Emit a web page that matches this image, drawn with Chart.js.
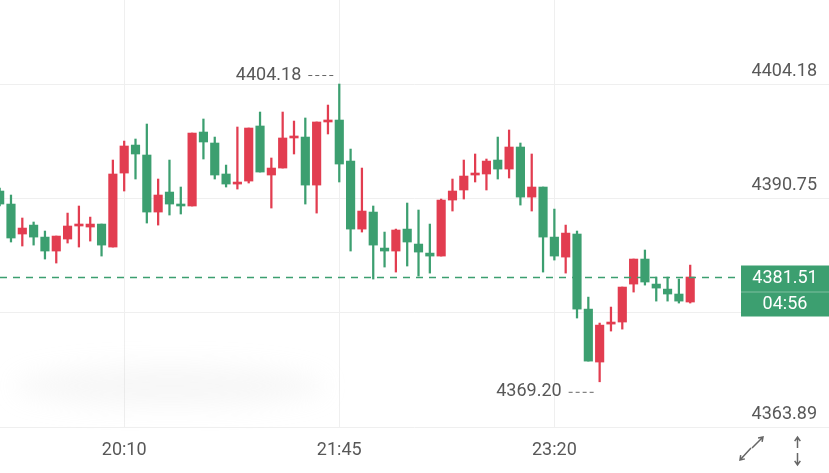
<!DOCTYPE html>
<html lang="zh">
<head>
<meta charset="UTF-8">
<title>K线图</title>
<script src="https://cdn.jsdelivr.net/npm/chart.js"></script>
<style>
  html, body { margin: 0; padding: 0; background: #fff; }
  canvas { display: block; }
</style>
</head>
<body>
<canvas id="kline" width="829" height="473"></canvas>
<script>
// 5 minute candles, index 11 = 20:10
const opens = [
  4391.61, 4390.08, 4386.56, 4387.61, 4386.20, 4384.56, 4385.97, 4387.50, 4387.38, 4387.73,
  4385.03, 4393.72, 4397.01, 4395.84, 4389.14, 4391.49, 4389.96, 4389.85, 4398.54, 4397.25,
  4393.61, 4392.43, 4392.78, 4399.25, 4393.49, 4394.31, 4397.84, 4397.95, 4392.31, 4399.72,
  4399.95, 4395.13, 4387.14, 4389.14, 4384.91, 4384.56, 4387.14, 4385.38, 4384.32, 4383.97,
  4390.55, 4391.73, 4393.49, 4393.61, 4395.25, 4394.19, 4396.78, 4390.90, 4392.08, 4386.20,
  4383.85, 4386.56, 4377.74, 4371.52, 4375.98, 4376.22, 4380.68, 4383.62, 4380.68, 4380.09,
  4379.51, 4378.57
];
const highs = [
  4391.96, 4391.14, 4388.44, 4387.97, 4386.91, 4386.32, 4389.02, 4389.85, 4388.55, 4387.73,
  4395.25, 4397.48, 4397.72, 4399.48, 4393.02, 4395.25, 4392.08, 4398.42, 4400.07, 4397.95,
  4394.66, 4399.13, 4399.01, 4400.89, 4395.49, 4400.89, 4399.83, 4400.19, 4399.72, 4401.71,
  4404.18, 4396.54, 4394.31, 4389.85, 4386.79, 4387.14, 4390.20, 4389.38, 4387.73, 4390.67,
  4393.02, 4395.25, 4395.96, 4395.37, 4397.95, 4398.78, 4397.25, 4395.96, 4392.08, 4389.49,
  4387.61, 4386.91, 4379.15, 4376.10, 4377.98, 4380.33, 4383.62, 4384.68, 4381.50, 4381.50,
  4381.27, 4382.91
];
const lows = [
  4389.85, 4385.62, 4385.15, 4385.26, 4383.62, 4383.15, 4385.50, 4385.03, 4385.73, 4383.97,
  4385.03, 4391.61, 4393.02, 4387.85, 4387.61, 4388.79, 4388.91, 4389.85, 4395.37, 4393.02,
  4392.08, 4391.84, 4392.55, 4393.84, 4389.61, 4394.31, 4395.96, 4390.08, 4389.02, 4398.31,
  4392.67, 4384.56, 4386.79, 4381.27, 4382.68, 4382.09, 4382.80, 4381.62, 4381.97, 4383.97,
  4389.26, 4390.67, 4392.67, 4391.73, 4393.02, 4393.14, 4389.96, 4389.26, 4382.09, 4383.50,
  4381.97, 4376.69, 4371.63, 4369.20, 4375.16, 4375.39, 4379.74, 4380.56, 4378.68, 4378.68,
  4378.45, 4378.45
];
const closes = [
  4390.08, 4386.09, 4387.26, 4386.20, 4384.56, 4386.32, 4387.50, 4387.61, 4387.73, 4385.26,
  4393.61, 4396.90, 4395.96, 4389.14, 4391.14, 4390.08, 4389.85, 4398.42, 4397.37, 4393.49,
  4392.43, 4392.55, 4399.01, 4393.84, 4394.31, 4397.84, 4397.95, 4392.31, 4399.72, 4399.83,
  4394.78, 4387.14, 4389.26, 4385.26, 4384.56, 4387.03, 4385.62, 4384.44, 4383.97, 4390.55,
  4391.61, 4393.37, 4393.72, 4395.13, 4394.19, 4396.78, 4390.90, 4392.08, 4386.20, 4383.97,
  4386.67, 4377.74, 4371.63, 4375.86, 4376.22, 4380.33, 4383.62, 4380.92, 4380.21, 4379.51,
  4378.68, 4381.51
];

const xTickIndex = [11, 30, 49];
const xTickLabels = ['20:10', '21:45', '23:20'];
const yTickValues = [4363.89, 4377.32, 4390.75, 4404.18];
const countdown = '04:56';

const RED = '#e23d50';
const GREEN = '#3c9f70';
const FONT = 'Roboto, "DejaVu Sans", sans-serif';

const idx = closes.map((c, i) => i);
const colors = idx.map(i => closes[i] >= opens[i] ? RED : GREEN);

// extra drawing: price labels, last price line + box, high/low marks, icons
const overlay = {
  id: 'overlay',
  beforeDatasetsDraw(chart) {
    const ctx = chart.ctx;
    ctx.save();
    ctx.filter = 'blur(12px)';
    ctx.fillStyle = 'rgba(215,215,215,0.2)';
    ctx.beginPath();
    ctx.ellipse(170, 386, 155, 20, 0, 0, Math.PI * 2);
    ctx.fill();
    ctx.restore();
  },
  afterDraw(chart) {
    const { ctx, scales: { x, y } } = chart;
    ctx.save();

    // price axis labels, sitting above their grid lines
    ctx.font = '18px ' + FONT;
    ctx.fillStyle = '#585858';
    ctx.textAlign = 'right';
    ctx.textBaseline = 'middle';
    yTickValues.forEach(v => {
      ctx.fillText(v.toFixed(2), 817, y.getPixelForValue(v) - 13);
    });

    // high / low marks
    const hiIdx = highs.indexOf(Math.max(...highs));
    const loIdx = lows.indexOf(Math.min(...lows));
    const mark = (i, v, dy) => {
      const px = x.getPixelForValue(i);
      const py = y.getPixelForValue(v) + dy;
      ctx.font = '18px ' + FONT;
      ctx.fillStyle = '#585858';
      ctx.textAlign = 'right';
      ctx.textBaseline = 'middle';
      ctx.fillText(v.toFixed(2), px - 38, py);
      ctx.setLineDash([4, 3]);
      ctx.strokeStyle = '#666';
      ctx.lineWidth = 1;
      ctx.beginPath();
      ctx.moveTo(px - 31, py + 0.5);
      ctx.lineTo(px - 4, py + 0.5);
      ctx.stroke();
      ctx.setLineDash([]);
    };
    mark(hiIdx, highs[hiIdx], -9);
    mark(loIdx, lows[loIdx], 10);

    // last price
    const last = closes[closes.length - 1];
    const py = Math.round(y.getPixelForValue(last)) + 0.5;
    ctx.setLineDash([7, 6]);
    ctx.strokeStyle = GREEN;
    ctx.lineWidth = 1.5;
    ctx.beginPath();
    ctx.moveTo(0, py);
    ctx.lineTo(741, py);
    ctx.stroke();
    ctx.setLineDash([]);

    ctx.fillStyle = GREEN;
    ctx.fillRect(741, py - 12, 88, 51);
    ctx.strokeStyle = 'rgba(255,255,255,0.35)';
    ctx.lineWidth = 1;
    ctx.beginPath();
    ctx.moveTo(741, py + 14.5);
    ctx.lineTo(829, py + 14.5);
    ctx.stroke();
    ctx.fillStyle = '#fff';
    ctx.textAlign = 'center';
    ctx.textBaseline = 'middle';
    ctx.fillText(last.toFixed(2), 785, py + 1);
    ctx.fillText(countdown, 785, py + 27);

    // bottom-right icons
    ctx.strokeStyle = '#666';
    ctx.lineWidth = 1.5;
    const arrow = (x1, y1, x2, y2) => {
      const a = Math.atan2(y2 - y1, x2 - x1);
      ctx.beginPath();
      ctx.moveTo(x1, y1);
      ctx.lineTo(x2, y2);
      ctx.moveTo(x2 - 5 * Math.cos(a - 0.6), y2 - 5 * Math.sin(a - 0.6));
      ctx.lineTo(x2, y2);
      ctx.lineTo(x2 - 5 * Math.cos(a + 0.6), y2 - 5 * Math.sin(a + 0.6));
      ctx.stroke();
    };
    arrow(751, 448, 740, 460);
    arrow(752, 448, 763, 437);
    arrow(797.5, 448, 797.5, 437);
    arrow(797.5, 453, 797.5, 465);

    ctx.restore();
  }
};

new Chart(document.getElementById('kline'), {
  type: 'bar',
  data: {
    datasets: [
      {
        label: 'body',
        data: idx.map(i => ({ x: i, y: [opens[i], closes[i]] })),
        backgroundColor: colors,
        barThickness: 8.5,
        minBarLength: 2,
        grouped: false,
        borderSkipped: false
      },
      {
        label: 'wick',
        data: idx.map(i => ({ x: i, y: [lows[i], highs[i]] })),
        backgroundColor: colors,
        barThickness: 1.6,
        grouped: false,
        borderSkipped: false
      }
    ]
  },
  options: {
    responsive: false,
    animation: false,
    layout: { padding: 0 },
    plugins: { legend: { display: false }, tooltip: { enabled: false } },
    scales: {
      x: {
        type: 'linear',
        min: 0.03,
        max: 73.26,
        offset: false,
        afterBuildTicks: s => { s.ticks = xTickIndex.map(v => ({ value: v })); },
        afterFit: s => { s.height = 46; },
        grid: { color: '#efefef', drawTicks: false, offset: false },
        border: { display: false },
        ticks: {
          padding: 13,
          maxRotation: 0,
          autoSkip: false,
          color: '#585858',
          font: { family: FONT, size: 18 },
          callback: v => xTickLabels[xTickIndex.indexOf(v)]
        }
      },
      y: {
        position: 'right',
        min: 4363.89,
        max: 4414.05,
        afterBuildTicks: s => { s.ticks = yTickValues.map(v => ({ value: v })); },
        afterFit: s => { s.width = 0; },
        grid: { color: '#efefef', drawTicks: false },
        border: { display: false },
        ticks: { display: false }
      }
    }
  },
  plugins: [overlay]
});
</script>
</body>
</html>
